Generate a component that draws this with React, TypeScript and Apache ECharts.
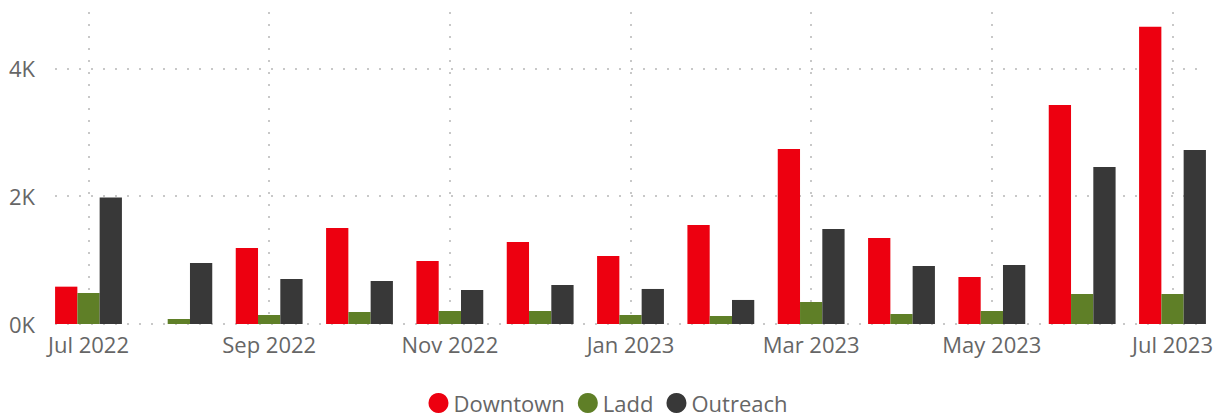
import React, { useEffect, useRef } from "react";
import * as echarts from "echarts";

const months = [
  "Jul 2022", "Aug 2022", "Sep 2022", "Oct 2022", "Nov 2022", "Dec 2022", "Jan 2023",
  "Feb 2023", "Mar 2023", "Apr 2023", "May 2023", "Jun 2023", "Jul 2023",
];
const downtown = [584, 0, 1190, 1502, 986, 1283, 1064, 1549, 2739, 1346, 736, 3427, 4648];
const ladd = [485, 78, 141, 188, 203, 203, 141, 125, 344, 156, 203, 469, 469];
const outreach = [1977, 955, 704, 673, 532, 610, 548, 376, 1487, 908, 923, 2457, 2723];
const seriesNames = ["Downtown", "Ladd", "Outreach"];
const colors = ["#ED0010", "#5F7F27", "#383838"];

const FONT = "'Segoe UI', 'Open Sans', sans-serif";
const Y_MAX = 4880;

export default function App() {
  const ref = useRef<HTMLDivElement>(null);
  useEffect(() => {
    if (!ref.current) return;
    const chart = echarts.init(ref.current, null, { renderer: "svg" });
    const dots = { color: "#C8C8C8", width: 2, type: [2, 10] as any };
    chart.setOption({
      animation: false,
      color: colors,
      textStyle: { fontFamily: FONT },
      grid: [
        { left: 55, right: 19, top: 12, bottom: 94 },
        { left: 88.5, right: 42.5, top: 12, bottom: 94 },
      ],
      xAxis: [
        { gridIndex: 0, type: "value", show: false, min: 0, max: 1 },
        {
          gridIndex: 1,
          type: "category",
          data: months,
          boundaryGap: false,
          axisLine: { show: false },
          axisTick: { show: false },
          axisLabel: {
            interval: 1,
            color: "#666666",
            fontSize: 22,
            fontFamily: FONT,
            margin: 9,
          },
          splitLine: { show: true, interval: 1, lineStyle: dots },
        },
      ],
      yAxis: [
        {
          gridIndex: 0,
          type: "value",
          min: 0,
          max: Y_MAX,
          interval: 2000,
          axisLine: { show: false },
          axisTick: { show: false },
          axisLabel: {
            showMaxLabel: false,
            color: "#666666",
            fontSize: 22,
            fontFamily: FONT,
            margin: 20,
            formatter: (v: number) => (v % 2000 === 0 ? v / 1000 + "K" : ""),
          },
          splitLine: { show: true, showMaxLine: false, lineStyle: dots },
        },
        {
          gridIndex: 1,
          type: "value",
          min: 0,
          max: Y_MAX,
          show: false,
          splitLine: { show: false },
        },
      ],
      legend: {
        data: seriesNames,
        left: "center",
        top: 392,
        padding: 0,
        icon: "circle",
        itemWidth: 20,
        itemHeight: 20,
        itemGap: 13,
        textStyle: { color: "#666666", fontSize: 22, fontFamily: FONT },
      },
      series: [downtown, ladd, outreach].map((d, i) => ({
        name: seriesNames[i],
        type: "bar",
        xAxisIndex: 1,
        yAxisIndex: 1,
        data: d,
        barGap: "0%",
        barCategoryGap: "26%",
        itemStyle: { color: colors[i] },
      })),
    });
    return () => chart.dispose();
  }, []);
  return (
    <div
      ref={ref}
      style={{ position: "absolute", left: 0, top: 0, width: 1216, height: 418 }}
    />
  );
}
